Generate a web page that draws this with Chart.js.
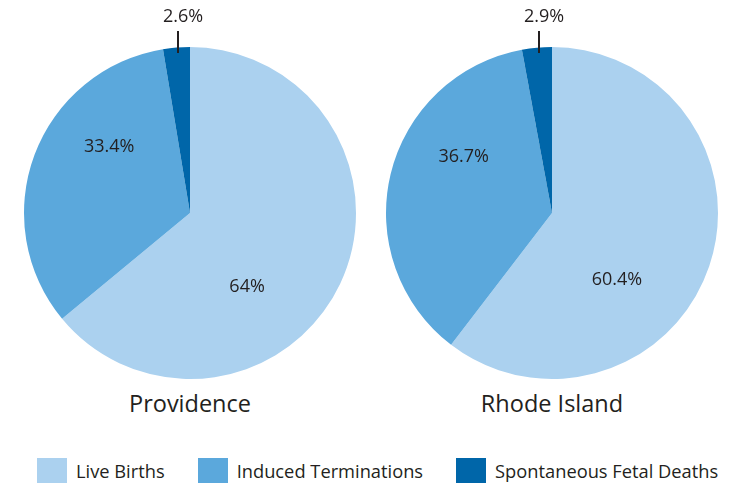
<!DOCTYPE html>
<html>
<head>
<meta charset="utf-8">
<script src="https://cdn.jsdelivr.net/npm/chart.js@4.4.0/dist/chart.umd.min.js"></script>
<style>
  body { margin: 0; background: #fff; font-family: "Open Sans", sans-serif; }
  #wrap { position: relative; width: 751px; height: 487px; overflow: hidden; }
  .pie { position: absolute; top: 0; width: 362px; height: 380px; }
  .name { position: absolute; top: 387px; width: 362px; text-align: center; font-size: 23.5px; color: #231f20; }
  #legend { position: absolute; top: 458px; left: 37px; width: 714px; display: flex; font-size: 18.3px; color: #231f20; white-space: nowrap; }
  #legend div { display: flex; align-items: center; flex: none; margin-right: 33px; }
  #legend span { display: inline-block; width: 30px; height: 25px; margin-right: 9px; }
</style>
</head>
<body>
<div id="wrap">
  <div class="pie" style="left:9px"><canvas id="c0"></canvas></div>
  <div class="pie" style="left:371px"><canvas id="c1"></canvas></div>
  <div class="name" style="left:9px" id="n0"></div>
  <div class="name" style="left:371px" id="n1"></div>
  <div id="legend"></div>
</div>
<script>
const categories = ["Live Births", "Induced Terminations", "Spontaneous Fetal Deaths"];
const places = ["Providence", "Rhode Island"];
const providence = [64, 33.4, 2.6];
const rhodeIsland = [60.4, 36.7, 2.9];
const valueLabels = [["64%", "33.4%", "2.6%"], ["60.4%", "36.7%", "2.9%"]];
const colors = ["#abd1ef", "#5ba8dc", "#0066a9"];

// labels sit a bit past the middle of each slice, small slices get a leader line
const sliceLabels = {
  id: "sliceLabels",
  afterDraw(chart) {
    const ctx = chart.ctx;
    const meta = chart.getDatasetMeta(0);
    const labels = chart.options.plugins.sliceLabels.labels;
    const shift = [0.47, 0.33];
    const dist = [0.56, 0.63];
    ctx.save();
    ctx.font = "18px 'Open Sans', sans-serif";
    ctx.fillStyle = "#231f20";
    ctx.textAlign = "center";
    ctx.textBaseline = "middle";
    meta.data.forEach((arc, i) => {
      const { x, y, startAngle, endAngle, outerRadius } = arc.getProps(["x", "y", "startAngle", "endAngle", "outerRadius"]);
      const mid = (startAngle + endAngle) / 2;
      if (endAngle - startAngle < 0.3) {
        const lx = Math.round(x + Math.cos(mid) * outerRadius) + 2;
        const top = y - outerRadius;
        ctx.strokeStyle = "#231f20";
        ctx.lineWidth = 2;
        ctx.beginPath();
        ctx.moveTo(lx, top + 6);
        ctx.lineTo(lx, top - 16);
        ctx.stroke();
        ctx.fillText(labels[i], lx + 5, top - 30);
      } else {
        const a = mid + shift[i];
        const r = outerRadius * dist[i];
        ctx.fillText(labels[i], x + Math.cos(a) * r, y + Math.sin(a) * r);
      }
    });
    ctx.restore();
  }
};

[providence, rhodeIsland].forEach((values, k) => {
  document.getElementById("n" + k).textContent = places[k];
  new Chart(document.getElementById("c" + k), {
    type: "pie",
    data: {
      labels: categories,
      datasets: [{ data: values, backgroundColor: colors, borderWidth: 0 }]
    },
    options: {
      responsive: true,
      maintainAspectRatio: false,
      animation: false,
      layout: { padding: { top: 47, bottom: 1, left: 15, right: 15 } },
      plugins: {
        legend: { display: false },
        tooltip: { enabled: false },
        sliceLabels: { labels: valueLabels[k] }
      }
    },
    plugins: [sliceLabels]
  });
});

const legend = document.getElementById("legend");
categories.forEach((c, i) => {
  const d = document.createElement("div");
  d.innerHTML = `<span style="background:${colors[i]}"></span>${c}`;
  legend.appendChild(d);
});
</script>
</body>
</html>
